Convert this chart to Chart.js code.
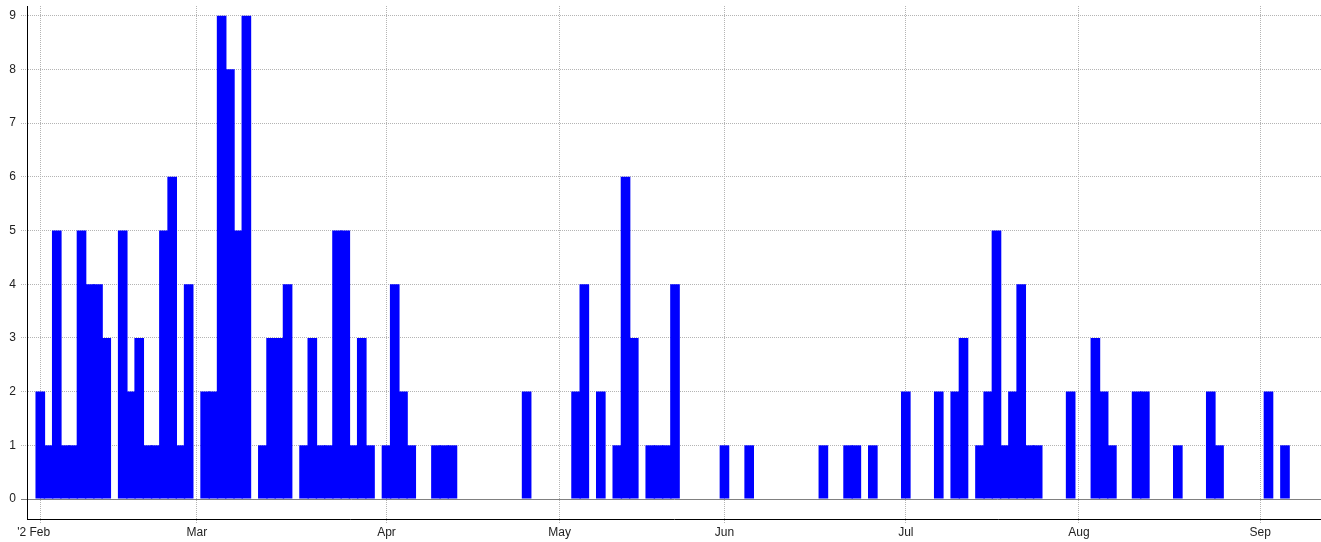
<!DOCTYPE html>
<html>
<head>
<meta charset="utf-8">
<title>Daily counts</title>
<script src="https://cdn.jsdelivr.net/npm/chart.js@4/dist/chart.umd.min.js"></script>
<style>
  html, body { margin: 0; padding: 0; background: #fff; }
  #wrap { width: 1321px; height: 542px; position: relative; }
</style>
</head>
<body>
<div id="wrap"><canvas id="countChart"></canvas></div>
<script>
/* ===== DATA ===== */
// one value per slot on the x axis
const slotValues = [
  2,1,5,1,1,5,4,4,3,0, 5,2,3,1,1,5,6,1,4,0,
  2,2,9,8,5,9,0,1,3,3, 4,0,1,3,1,1,5,5,1,3,
  1,0,1,4,2,1,0,0,1,1, 1,0,0,0,0,0,0,0,0,2,
  0,0,0,0,0,2,4,0,2,0, 1,6,3,0,1,1,1,4,0,0,
  0,0,0,1,0,0,1,0,0,0, 0,0,0,0,0,1,0,0,1,1,
  0,1,0,0,0,2,0,0,0,2, 0,2,3,0,1,2,5,1,2,4,
  1,1,0,0,0,2,0,0,3,2, 1,0,0,2,2,0,0,0,1,0,
  0,0,2,1,0,0,0,0,0,2, 0,1
];
// slot where each month starts, and its label
const monthSlots  = [0, 19, 42, 63, 83, 105, 126, 148];
const monthLabels = ["'2 Feb    ", 'Mar', 'Apr', 'May', 'Jun', 'Jul', 'Aug', 'Sep'];
const yTicks = [0, 1, 2, 3, 4, 5, 6, 7, 8, 9];

const points = slotValues.map((v, i) => ({ x: i, y: v }));

const FONT = { family: "'Liberation Sans', Arial, sans-serif", size: 12, lineHeight: 1 };
const GRID = '#b4b4b4';
const isZero = c => c.tick && c.tick.value === 0;

new Chart(document.getElementById('countChart'), {
  type: 'bar',
  data: {
    datasets: [{
      data: points,
      backgroundColor: '#0000ff',
      borderWidth: 0,
      categoryPercentage: 1,
      barPercentage: 1.17,
      grouped: false
    }]
  },
  options: {
    responsive: true, maintainAspectRatio: false,
    animation: false,
    events: [],
    layout: { padding: { top: 6, right: 0, left: 0, bottom: 0 } },
    plugins: { legend: { display: false }, tooltip: { enabled: false } },
    scales: {
      x: {
        type: 'linear',
        offset: false,
        min: -1.613, max: 155.37,
        afterBuildTicks: s => { s.ticks = monthSlots.map(v => ({ value: v })); },
        afterFit: s => { s.height = 23; s.paddingLeft = 0; s.paddingRight = 0; },
        ticks: {
          autoSkip: false, maxRotation: 0, padding: 4,
          color: '#222', font: FONT,
          callback: (v, i) => monthLabels[i]
        },
        grid: { offset: false, color: GRID, lineWidth: 1, drawTicks: true, tickLength: 4, tickColor: GRID, tickBorderDash: [1, 1] },
        border: { display: true, color: '#000', width: 1, dash: [1, 1] }
      },
      y: {
        min: -0.372, max: 9.18,
        afterBuildTicks: s => { s.ticks = yTicks.map(v => ({ value: v })); },
        afterFit: s => { s.width = 27; s.paddingTop = 0; s.paddingBottom = 0; },
        ticks: { padding: 5, color: '#222', font: FONT },
        grid: {
          color: c => isZero(c) ? '#808080' : GRID,
          lineWidth: 1, drawTicks: true, tickLength: 6,
          tickColor: c => isZero(c) ? '#808080' : GRID,
          tickBorderDash: c => isZero(c) ? [] : [1, 1]
        },
        border: {
          display: true, color: '#000', width: 1,
          dash: c => isZero(c) ? [] : [1, 1]
        }
      }
    }
  }
});
</script>
</body>
</html>
